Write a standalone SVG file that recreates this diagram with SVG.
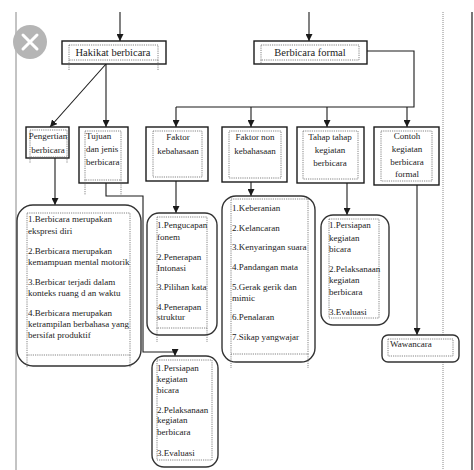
<svg xmlns="http://www.w3.org/2000/svg" width="474" height="470" viewBox="0 0 474 470">
<defs>
<style>
.box{fill:#fff;stroke:#1a1a1a;stroke-width:1.4}
.rnd{fill:#fff;stroke:#333;stroke-width:1.4}
.dot{fill:none;stroke:#666;stroke-width:0.8;stroke-dasharray:1.2 1}
.conn{fill:none;stroke:#1a1a1a;stroke-width:1.1}
.margin{stroke:#888;stroke-width:1}
text{font-family:"Liberation Serif","Times New Roman",serif;fill:#222;font-size:9px}
.t1{font-size:10.5px}
.c{text-anchor:middle}
</style>
<marker id="ar" viewBox="0 0 8 8" refX="8" refY="4" markerWidth="7" markerHeight="7" markerUnits="userSpaceOnUse" orient="auto">
<path d="M0,0 L8,4 L0,8 Z" fill="#1a1a1a"/>
</marker>
</defs>
<rect width="474" height="470" fill="#fff"/>
<g id="page">
<line class="margin" x1="16" y1="12" x2="16" y2="470"/>
<line x1="443" y1="12" x2="443" y2="470" stroke="#888" stroke-width="1" stroke-dasharray="1 1"/>
<line x1="472" y1="12" x2="472" y2="470" stroke="#777" stroke-width="2"/>
<circle cx="30" cy="42" r="17" fill="#b5b5b5"/>
<path d="M23,35 L37,49 M37,35 L23,49" stroke="#fff" stroke-width="3" stroke-linecap="round"/>
</g>
<g id="connectors">
<path class="conn" d="M120,12 V41" marker-end="url(#ar)"/>
<path class="conn" d="M309,12 V41" marker-end="url(#ar)"/>
<path class="conn" d="M106,64 L50,127" marker-end="url(#ar)"/>
<path class="conn" d="M106,64 V127" marker-end="url(#ar)"/>
<path class="conn" d="M367,51 H414 V107 H176"/>
<path class="conn" d="M176,107 V127" marker-end="url(#ar)"/>
<path class="conn" d="M251,107 V127" marker-end="url(#ar)"/>
<path class="conn" d="M327,107 V127" marker-end="url(#ar)"/>
<path class="conn" d="M407,107 V127" marker-end="url(#ar)"/>
<path class="conn" d="M55,158 V205" marker-end="url(#ar)"/>
<path class="conn" d="M106,183 V196 H143 V352 H175 V356" marker-end="url(#ar)"/>
<path class="conn" d="M176,181 V213" marker-end="url(#ar)"/>
<path class="conn" d="M251,182 V196" marker-end="url(#ar)"/>
<path class="conn" d="M347,183 V215" marker-end="url(#ar)"/>
<path class="conn" d="M417,185 V335" marker-end="url(#ar)"/>
</g>
<g id="hakikat">
<rect class="box" x="62" y="41" width="104" height="23"/>
<rect class="dot" x="69" y="45" width="89" height="15"/>
<path class="dot" d="M69,60 V71 M158,60 V71"/>
<text class="t1 c" x="113" y="56">Hakikat berbicara</text>
</g>
<g id="formal">
<rect class="box" x="254" y="41" width="113" height="23"/>
<rect class="dot" x="261" y="45" width="98" height="15"/>
<path class="dot" d="M261,60 V64"/>
<text class="t1 c" x="310" y="56">Berbicara formal</text>
</g>
<g id="pengertian">
<rect class="box" x="26" y="127" width="43" height="31"/>
<rect class="dot" x="30" y="130" width="37" height="27"/>
<path class="dot" d="M30,157 V163 M67,157 V163"/>
<text class="c" x="48" y="139">Pengertian</text>
<text class="c" x="48" y="153">berbicara</text>
</g>
<g id="tujuan">
<rect class="box" x="79" y="127" width="49" height="56"/>
<rect class="dot" x="85" y="131" width="36" height="49"/>
<path class="dot" d="M85,180 V195 M121,180 V195"/>
<text x="86" y="139">Tujuan</text>
<text x="86" y="152">dan jenis</text>
<text x="86" y="165">berbicara</text>
</g>
<g id="faktor-kebahasaan">
<rect class="box" x="146" y="127" width="62" height="54"/>
<rect class="dot" x="153" y="131" width="49" height="46"/>
<text class="c" x="178" y="140">Faktor</text>
<text class="c" x="178" y="154">kebahasaan</text>
</g>
<g id="faktor-non">
<rect class="box" x="222" y="127" width="65" height="55"/>
<rect class="dot" x="229" y="131" width="52" height="47"/>
<text class="c" x="255" y="140">Faktor non</text>
<text class="c" x="255" y="154">kebahasaan</text>
</g>
<g id="tahap">
<rect class="box" x="297" y="127" width="67" height="56"/>
<rect class="dot" x="303" y="131" width="55" height="48"/>
<text class="c" x="330" y="140">Tahap tahap</text>
<text class="c" x="330" y="153">kegiatan</text>
<text class="c" x="330" y="166">berbicara</text>
</g>
<g id="contoh">
<rect class="box" x="374" y="127" width="65" height="58"/>
<rect class="dot" x="381" y="131" width="51" height="50"/>
<text class="c" x="407" y="139">Contoh</text>
<text class="c" x="407" y="152">kegiatan</text>
<text class="c" x="407" y="165">berbicara</text>
<text class="c" x="407" y="177">formal</text>
</g>
<g id="pengertian-isi">
<rect class="rnd" x="17" y="205" width="124" height="161" rx="16"/>
<rect class="dot" x="27" y="213" width="103" height="142"/>
<path class="dot" d="M27,355 V368 M130,355 V368"/>
<text x="28" y="222">1.Berbicara merupakan</text>
<text x="28" y="234">ekspresi diri</text>
<text x="28" y="254">2.Berbicara merupakan</text>
<text x="28" y="265">kemampuan mental motorik</text>
<text x="28" y="285">3.Berbicar terjadi dalam</text>
<text x="28" y="296">konteks ruang d an waktu</text>
<text x="28" y="316">4.Berbicara merupakan</text>
<text x="28" y="327">ketrampilan berbahasa yang</text>
<text x="28" y="338">bersifat produktif</text>
</g>
<g id="kebahasaan-isi">
<rect class="rnd" x="147" y="213" width="70" height="122" rx="12"/>
<rect class="dot" x="157" y="217" width="50" height="111"/>
<path class="dot" d="M157,328 V342 M207,328 V342"/>
<text x="157" y="228">1.Pengucapan</text>
<text x="157" y="240">fonem</text>
<text x="157" y="260">2.Penerapan</text>
<text x="157" y="271">Intonasi</text>
<text x="157" y="290">3.Pilihan kata</text>
<text x="157" y="310">4.Penerapan</text>
<text x="157" y="320">struktur</text>
</g>
<g id="nonkebahasaan-isi">
<rect class="rnd" x="222" y="196" width="93" height="166" rx="14"/>
<rect class="dot" x="231" y="199" width="77" height="155"/>
<path class="dot" d="M231,354 V368 M308,354 V368"/>
<text x="232" y="211">1.Keberanian</text>
<text x="232" y="231">2.Kelancaran</text>
<text x="232" y="250">3.Kenyaringan suara</text>
<text x="232" y="270">4.Pandangan mata</text>
<text x="232" y="290">5.Gerak gerik dan</text>
<text x="232" y="301">mimic</text>
<text x="232" y="320">6.Penalaran</text>
<text x="232" y="340">7.Sikap yangwajar</text>
</g>
<g id="tahap-isi">
<rect class="rnd" x="321" y="215" width="68" height="110" rx="12"/>
<rect class="dot" x="329" y="219" width="50" height="99"/>
<text x="329" y="228">1.Persiapan</text>
<text x="329" y="241">kegiatan</text>
<text x="329" y="252">bicara</text>
<text x="329" y="272">2.Pelaksanaan</text>
<text x="329" y="283">kegiatan</text>
<text x="329" y="295">berbicara</text>
<text x="329" y="315">3.Evaluasi</text>
</g>
<g id="tujuan-isi">
<rect class="rnd" x="152" y="356" width="66" height="111" rx="12"/>
<rect class="dot" x="157" y="360" width="55" height="100"/>
<text x="157" y="371">1.Persiapan</text>
<text x="157" y="382">kegiatan</text>
<text x="157" y="393">bicara</text>
<text x="157" y="413">2.Pelaksanaan</text>
<text x="157" y="423">kegiatan</text>
<text x="157" y="435">berbicara</text>
<text x="157" y="456">3.Evaluasi</text>
</g>
<g id="wawancara">
<rect class="rnd" x="382" y="335" width="77" height="27" rx="6"/>
<rect class="dot" x="388" y="339" width="65" height="17"/>
<text x="390" y="347">Wawancara</text>
</g>
</svg>
